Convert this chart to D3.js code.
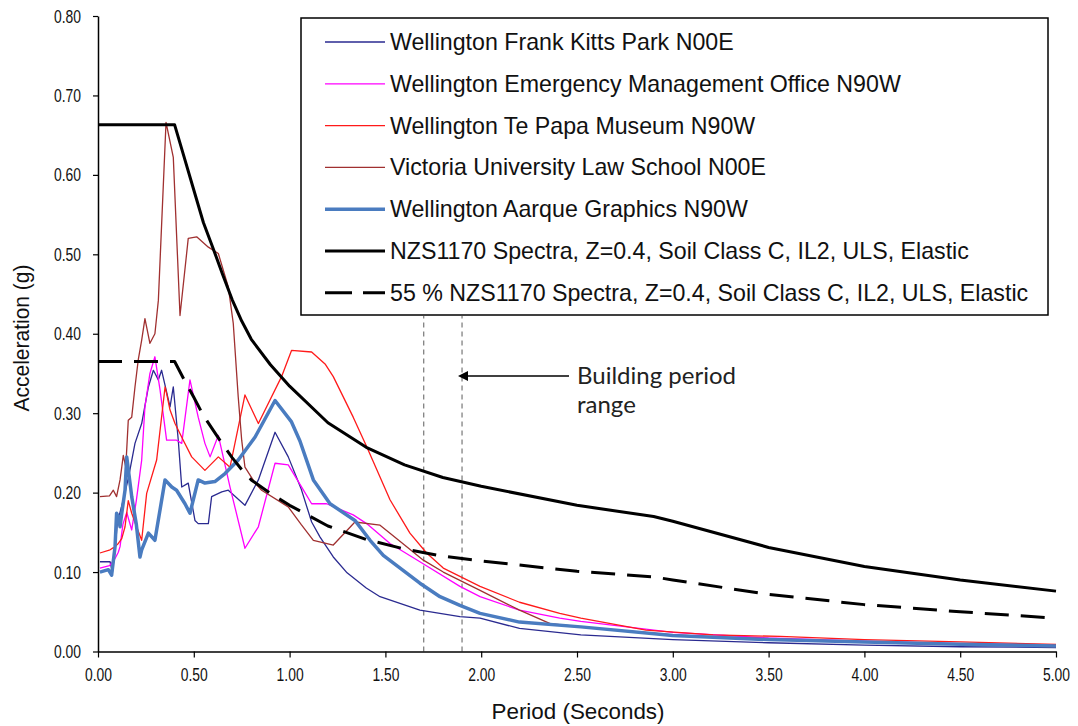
<!DOCTYPE html>
<html>
<head>
<meta charset="utf-8">
<script src="https://cdn.jsdelivr.net/npm/d3@7"></script>
<style>
body { margin: 0; background: #fff; }
text { font-family: "Liberation Sans", Arial, sans-serif; }
.note { font-family: Lato, "Open Sans", sans-serif; }
</style>
</head>
<body>
<div id="chart"></div>
<script>
// response spectra, [period (s), acceleration (g)]
var frankKitts = [[0.01,0.113],[0.063,0.113],[0.075,0.10],[0.09,0.13],[0.1,0.16],[0.115,0.175],[0.132,0.191],[0.16,0.22],[0.193,0.262],[0.228,0.287],[0.263,0.333],[0.289,0.354],[0.315,0.342],[0.332,0.354],[0.376,0.308],[0.393,0.333],[0.419,0.266],[0.437,0.207],[0.471,0.212],[0.506,0.165],[0.523,0.161],[0.576,0.161],[0.593,0.195],[0.646,0.201],[0.68,0.203],[0.767,0.184],[0.837,0.216],[0.924,0.276],[0.993,0.245],[1.06,0.205],[1.115,0.163],[1.159,0.144],[1.228,0.119],[1.3,0.099],[1.4,0.08],[1.472,0.069],[1.68,0.052],[1.889,0.044],[1.994,0.042],[2.2,0.029],[2.52,0.021],[3.0,0.015],[3.5,0.011],[4.0,0.008],[4.5,0.006],[5.0,0.005]];

var emergencyOffice = [[0.01,0.105],[0.06,0.108],[0.089,0.117],[0.106,0.125],[0.115,0.132],[0.13,0.16],[0.15,0.175],[0.176,0.153],[0.2,0.19],[0.228,0.241],[0.245,0.308],[0.271,0.35],[0.297,0.371],[0.324,0.329],[0.358,0.266],[0.41,0.266],[0.437,0.262],[0.48,0.342],[0.523,0.295],[0.558,0.262],[0.585,0.245],[0.628,0.272],[0.689,0.207],[0.767,0.13],[0.837,0.157],[0.924,0.237],[0.993,0.235],[1.063,0.207],[1.115,0.186],[1.193,0.186],[1.332,0.172],[1.402,0.161],[1.524,0.136],[1.68,0.113],[1.889,0.082],[1.994,0.069],[2.2,0.052],[2.41,0.042],[2.52,0.038],[3.0,0.024],[3.5,0.017],[4.0,0.013],[4.5,0.010],[5.0,0.008]];

var tePapa = [[0.01,0.124],[0.063,0.128],[0.089,0.132],[0.106,0.136],[0.124,0.142],[0.141,0.157],[0.158,0.19],[0.176,0.174],[0.2,0.158],[0.228,0.14],[0.254,0.199],[0.306,0.241],[0.35,0.333],[0.358,0.325],[0.376,0.304],[0.402,0.287],[0.445,0.266],[0.489,0.245],[0.558,0.228],[0.628,0.245],[0.689,0.232],[0.767,0.323],[0.837,0.287],[0.958,0.346],[1.01,0.379],[1.115,0.377],[1.185,0.362],[1.228,0.346],[1.332,0.295],[1.402,0.258],[1.524,0.191],[1.628,0.149],[1.715,0.124],[1.802,0.105],[1.994,0.082],[2.2,0.062],[2.41,0.048],[2.52,0.042],[2.86,0.027],[3.21,0.021],[3.56,0.019],[4.0,0.015],[4.5,0.012],[5.0,0.009]];

var lawSchool = [[0.01,0.195],[0.06,0.196],[0.08,0.203],[0.097,0.195],[0.115,0.216],[0.124,0.232],[0.132,0.247],[0.145,0.232],[0.158,0.291],[0.176,0.295],[0.193,0.333],[0.21,0.367],[0.228,0.392],[0.245,0.419],[0.271,0.388],[0.297,0.40],[0.315,0.442],[0.355,0.666],[0.393,0.622],[0.428,0.423],[0.471,0.52],[0.515,0.522],[0.576,0.509],[0.628,0.501],[0.68,0.459],[0.706,0.413],[0.732,0.32],[0.75,0.266],[0.767,0.232],[0.82,0.212],[0.854,0.203],[0.993,0.182],[1.06,0.16],[1.124,0.14],[1.228,0.134],[1.341,0.163],[1.472,0.159],[1.524,0.149],[1.6,0.134],[1.698,0.115],[1.802,0.100],[1.994,0.077],[2.2,0.052],[2.36,0.035],[2.52,0.031],[3.0,0.021],[3.5,0.016],[4.0,0.012],[4.5,0.009],[5.0,0.006]];

var aarque = [[0.01,0.100],[0.054,0.103],[0.071,0.096],[0.089,0.132],[0.097,0.174],[0.106,0.170],[0.115,0.157],[0.124,0.174],[0.141,0.203],[0.15,0.245],[0.176,0.195],[0.2,0.16],[0.219,0.119],[0.228,0.128],[0.263,0.149],[0.297,0.14],[0.35,0.216],[0.385,0.207],[0.41,0.203],[0.454,0.186],[0.48,0.174],[0.523,0.216],[0.558,0.212],[0.61,0.214],[0.663,0.224],[0.732,0.241],[0.82,0.270],[0.924,0.316],[1.01,0.289],[1.054,0.265],[1.124,0.216],[1.211,0.186],[1.341,0.165],[1.42,0.14],[1.489,0.121],[1.68,0.086],[1.785,0.069],[1.889,0.058],[1.994,0.048],[2.2,0.037],[2.52,0.031],[3.0,0.020],[3.5,0.015],[4.0,0.012],[4.5,0.009],[5.0,0.007]];

var nzsSpectrum = [[0,0.663],[0.4,0.663],[0.45,0.622],[0.5,0.581],[0.55,0.540],[0.6,0.508],[0.65,0.475],[0.7,0.443],[0.75,0.416],[0.8,0.393],[0.9,0.361],[1.0,0.334],[1.2,0.288],[1.4,0.257],[1.6,0.235],[1.8,0.219],[2.0,0.208],[2.5,0.184],[2.9,0.170],[3.0,0.164],[3.5,0.131],[4.0,0.107],[4.5,0.090],[5.0,0.076]];

var nzs55Spectrum = [[0,0.365],[0.4,0.365],[0.45,0.342],[0.5,0.320],[0.55,0.297],[0.6,0.279],[0.65,0.261],[0.7,0.244],[0.75,0.229],[0.8,0.216],[0.9,0.199],[1.0,0.184],[1.2,0.158],[1.4,0.141],[1.6,0.129],[1.8,0.120],[2.0,0.114],[2.5,0.101],[2.9,0.094],[3.0,0.090],[3.5,0.072],[4.0,0.059],[4.5,0.050],[5.0,0.042]];

var seriesNames = ["Wellington Frank Kitts Park N00E", "Wellington Emergency Management Office N90W",
  "Wellington Te Papa Museum N90W", "Victoria University Law School N00E", "Wellington Aarque Graphics N90W",
  "NZS1170 Spectra, Z=0.4, Soil Class C, IL2, ULS, Elastic", "55 % NZS1170 Spectra, Z=0.4, Soil Class C, IL2, ULS, Elastic"];
var seriesData = [frankKitts, emergencyOffice, tePapa, lawSchool, aarque, nzsSpectrum, nzs55Spectrum];
var seriesColor = ["#2a2a90", "#ff00ff", "#ff1a1a", "#a03030", "#4a7cc0", "#000", "#000"];
var seriesWidth = [1.3, 1.3, 1.3, 1.3, 3.5, 3, 3];
var seriesDash = [null, null, null, null, null, null, "24,12"];

var xTicks = [0, 0.5, 1, 1.5, 2, 2.5, 3, 3.5, 4, 4.5, 5];
var yTicks = [0, 0.1, 0.2, 0.3, 0.4, 0.5, 0.6, 0.7, 0.8];
var buildingPeriods = [1.7, 1.9];

var svg = d3.select("#chart").append("svg").attr("width", 1078).attr("height", 726);

var x = d3.scaleLinear().domain([0, 5]).range([98, 1056]);
var y = d3.scaleLinear().domain([0, 0.8]).range([651.5, 16]);

// building period range markers
svg.selectAll(".bp").data(buildingPeriods).enter().append("line")
  .attr("x1", d => x(d)).attr("x2", d => x(d))
  .attr("y1", y(0)).attr("y2", 316)
  .attr("stroke", "#777").attr("stroke-width", 1.2).attr("stroke-dasharray", "5,4");

var line = d3.line().x(d => x(d[0])).y(d => y(d[1]));

svg.selectAll(".series").data(seriesData).enter().append("path")
  .attr("fill", "none")
  .attr("d", line)
  .attr("stroke", (d, i) => seriesColor[i])
  .attr("stroke-width", (d, i) => seriesWidth[i])
  .attr("stroke-dasharray", (d, i) => seriesDash[i])
  .attr("stroke-linejoin", "round");

// axes
var xAxis = svg.append("g").attr("transform", "translate(0," + y(0) + ")")
  .call(d3.axisBottom(x).tickValues(xTicks).tickFormat(d3.format(".2f")).tickSize(6).tickPadding(10).tickSizeOuter(0));
var yAxis = svg.append("g").attr("transform", "translate(" + x(0) + ",0)")
  .call(d3.axisLeft(y).tickValues(yTicks).tickFormat(d3.format(".2f")).tickSize(5).tickPadding(12).tickSizeOuter(0));
[xAxis, yAxis].forEach(function(a){
  a.select(".domain").attr("stroke", "#000").attr("stroke-width", 1.5);
  a.selectAll(".tick line").attr("stroke", "#000").attr("stroke-width", 1.2);
  a.selectAll(".tick text").attr("font-size", 19).attr("fill", "#111")
    .attr("textLength", 27).attr("lengthAdjust", "spacingAndGlyphs");
});

svg.append("text").attr("x", 578).attr("y", 719).attr("text-anchor", "middle")
  .attr("font-size", 22).attr("fill", "#111")
  .attr("textLength", 173).attr("lengthAdjust", "spacingAndGlyphs").text("Period (Seconds)");
svg.append("text").attr("transform", "translate(29,338) rotate(-90)").attr("text-anchor", "middle")
  .attr("font-size", 22).attr("fill", "#111")
  .attr("textLength", 147).attr("lengthAdjust", "spacingAndGlyphs").text("Acceleration (g)");

// annotation
svg.append("defs").append("marker").attr("id", "arrow")
  .attr("viewBox", "0 0 10 10").attr("refX", 1).attr("refY", 5)
  .attr("markerWidth", 12).attr("markerHeight", 10).attr("markerUnits", "userSpaceOnUse")
  .attr("orient", "auto-start-reverse")
  .append("path").attr("d", "M0,0L10,5L0,10z").attr("fill", "#000");
svg.append("line").attr("x1", 569).attr("x2", 467).attr("y1", 376).attr("y2", 376)
  .attr("stroke", "#000").attr("stroke-width", 1.3).attr("marker-end", "url(#arrow)");
svg.append("text").attr("class", "note").attr("x", 577).attr("y", 384)
  .attr("font-size", 24).attr("fill", "#222").text("Building period");
svg.append("text").attr("class", "note").attr("x", 577).attr("y", 413)
  .attr("font-size", 24).attr("fill", "#222").text("range");

// legend
var legend = svg.append("g").attr("class", "legend");
legend.append("rect").attr("x", 301).attr("y", 18).attr("width", 747).attr("height", 297)
  .attr("fill", "#fff").attr("stroke", "#000").attr("stroke-width", 1.5);
var rows = legend.selectAll(".row").data(seriesNames).enter().append("g")
  .attr("transform", (d, i) => "translate(0," + (42 + i * 41.8) + ")");
rows.append("line").attr("x1", 325).attr("x2", 385).attr("y1", 0).attr("y2", 0)
  .attr("stroke", (d, i) => seriesColor[i])
  .attr("stroke-width", (d, i) => seriesWidth[i])
  .attr("stroke-dasharray", (d, i) => seriesDash[i] ? "27,11" : null);
rows.append("text").attr("x", 390).attr("y", 8).attr("font-size", 23.2).attr("fill", "#111").text(d => d);
</script>
</body>
</html>
